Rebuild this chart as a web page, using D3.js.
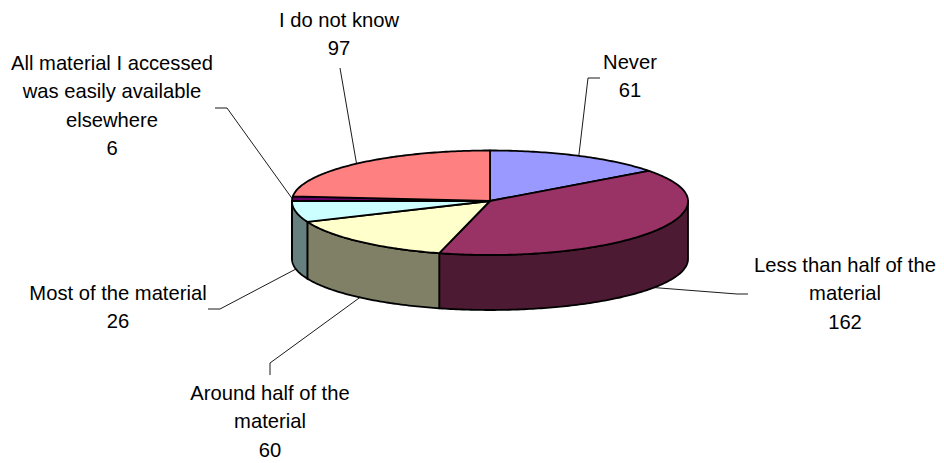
<!DOCTYPE html>
<html><head><meta charset="utf-8">
<style>html,body{margin:0;padding:0;background:#fff}svg{display:block}text{font-family:"Liberation Sans",Arial,sans-serif;font-size:20.2px;fill:#000}</style>
<script src="https://cdn.jsdelivr.net/npm/d3@7"></script>
</head><body><svg id="c" width="944" height="463"></svg>
<script>
const categories = ["Never","Less than half of the material","Around half of the material","Most of the material","All material I accessed was easily available elsewhere","I do not know"];
const values = [61,162,60,26,6,97];
const labelLines = [["Never"],["Less than half of the","material"],["Around half of the","material"],["Most of the material"],["All material I accessed","was easily available","elsewhere"],["I do not know"]];
const topColors = ["#9999FF","#993366","#FFFFCC","#CCFFFF","#660066","#FF8080"];
const sideColors = ["#4D4D80","#4D1A33","#808066","#668080","#330033","#804040"];
// label layout: text centre x, first line centre y, leader elbow points
const labelX = [630,845,270,118,112,339];
const labelY = [62,265,393,293,63,20];
const elbows = [[[588,78],[600,78]],[[737,294],[748,294]],[[270,363],[270,375]],[[220,309],[208,309]],[[227,108],[215,108]],[[340,68]]];

const cx=490, cy=201, rx=198, ryFar=50.5, ryNear=54, by=259, ryBottom=51;
const svg=d3.select("#c");
const arcs=d3.pie().sort(null).value((d,i)=>values[i])(values);
const topPt=a=>{const c=Math.cos(a);return [cx+rx*Math.sin(a), cy-c*(c>0?ryFar:ryNear)];};
const botPt=a=>[cx+rx*Math.sin(a), by-Math.cos(a)*ryBottom];
const line=d3.line();
const samples=(a0,a1)=>{const n=Math.max(2,Math.ceil((a1-a0)/0.015));return d3.range(n+1).map(i=>a0+(a1-a0)*i/n);};
const lo=Math.PI/2, hi=3*Math.PI/2;
// walls
arcs.forEach((d,i)=>{
  const a0=Math.max(d.startAngle,lo), a1=Math.min(d.endAngle,hi);
  if(a1<=a0) return;
  const s=samples(a0,a1);
  svg.append("path").attr("d",line(s.map(topPt).concat(s.slice().reverse().map(botPt)))+"Z")
    .attr("fill",sideColors[i]).attr("stroke","#000").attr("stroke-width",1.8).attr("stroke-linejoin","round");
});
// top faces
arcs.forEach((d,i)=>{
  const s=samples(d.startAngle,d.endAngle);
  svg.append("path").attr("d",line([[cx,cy]].concat(s.map(topPt)))+"Z")
    .attr("fill",topColors[i]).attr("stroke","#000").attr("stroke-width",1.8).attr("stroke-linejoin","round");
});
// leaders + labels
arcs.forEach((d,i)=>{
  const m=(d.startAngle+d.endAngle)/2;
  const front=Math.cos(m)<0;
  const start=front?botPt(m):topPt(m);
  svg.append("path").attr("d",line([start].concat(elbows[i]))).attr("fill","none").attr("stroke","#000").attr("stroke-width",0.9);
  const lines=labelLines[i].concat([String(values[i])]);
  lines.forEach((t,k)=>svg.append("text").attr("x",labelX[i]).attr("y",labelY[i]+k*28.2).attr("dy","0.36em").attr("text-anchor","middle").text(t));
});
</script></body></html>
